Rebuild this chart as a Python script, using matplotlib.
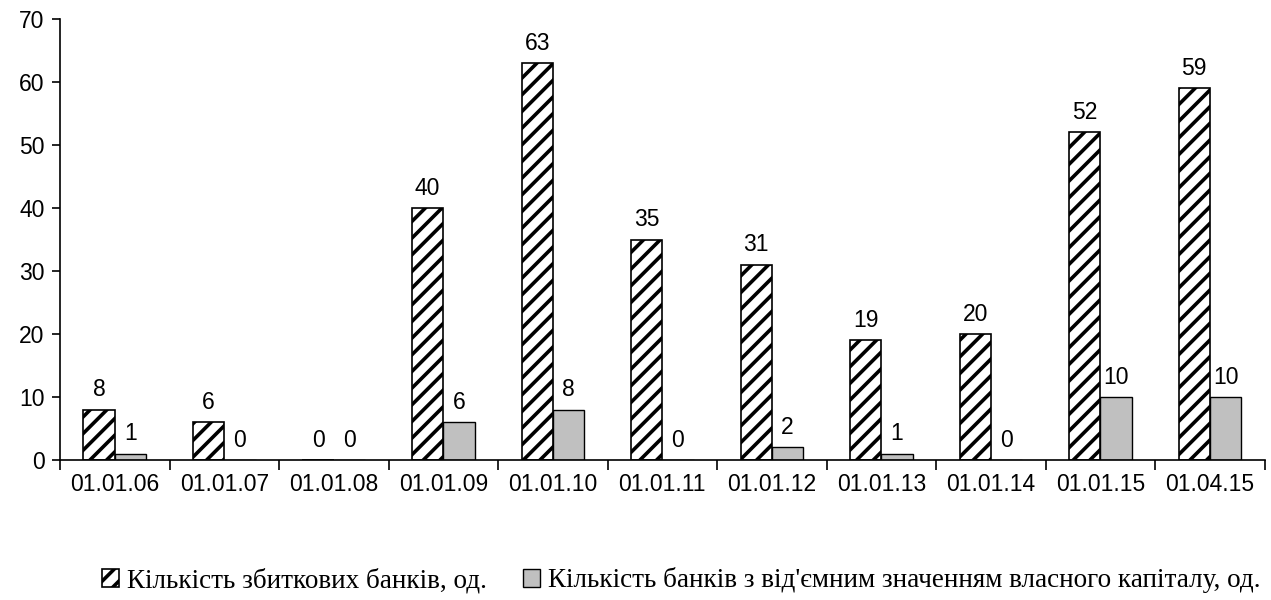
import numpy as np
import matplotlib as mpt
from matplotlib import pyplot as plt

mpt.use('Agg')
plt.rcParams['font.family'] = ['Liberation Sans', 'DejaVu Sans']
plt.rcParams['hatch.linewidth'] = 2.6

dates = ['01.01.06', '01.01.07', '01.01.08', '01.01.09', '01.01.10', '01.01.11',
         '01.01.12', '01.01.13', '01.01.14', '01.01.15', '01.04.15']
loss_banks = [8, 6, 0, 40, 63, 35, 31, 19, 20, 52, 59]
neg_capital = [1, 0, 0, 6, 8, 0, 2, 1, 0, 10, 10]
names = ['Кількість збиткових банків, од.',
         'Кількість банків з від\'ємним значенням власного капіталу, од.']

x = np.arange(len(dates))
w = 1 / 3.5

fig = plt.figure(figsize=(12.71, 6), dpi=100)
ax = fig.add_axes([0.0472, 0.2333, 0.9478, 0.735])

b1 = ax.bar(x - w / 2, loss_banks, w, color='white', edgecolor='black',
            hatch='//', linewidth=1.2, label=names[0])
b2 = ax.bar(x + w / 2, neg_capital, w, color='#c0c0c0', edgecolor='black',
            linewidth=1.0, label=names[1])

# підписи значень над стовпцями
for bars, vals in ((b1, loss_banks), (b2, neg_capital)):
    for r, v in zip(bars, vals):
        ax.annotate(str(v), (r.get_x() + r.get_width() / 2, v),
                    xytext=(0, 6), textcoords='offset points',
                    ha='center', va='bottom', fontsize=16.5)

ax.set_xlim(-0.5, len(dates) - 0.5)
ax.set_ylim(0, 70)
ax.set_yticks(range(0, 71, 10))
ax.set_xticks(np.arange(-0.5, len(dates), 1))
ax.set_xticklabels([])
ax.set_xticks(x, minor=True)
ax.set_xticklabels(dates, minor=True)
ax.tick_params(axis='x', which='minor', length=0, pad=9, labelsize=16.5)
ax.tick_params(axis='x', which='major', length=7, width=1.2, direction='out')
ax.tick_params(axis='y', length=6, width=1.2, labelsize=16.5, pad=5)
for s in ['top', 'right']:
    ax.spines[s].set_visible(False)
ax.spines['left'].set_linewidth(1.2)
ax.spines['bottom'].set_linewidth(1.2)

fig.legend(handles=[b1, b2], loc='center', bbox_to_anchor=(0.536, 0.033),
           ncol=2, frameon=False, handlelength=0.65, handleheight=0.65,
           handletextpad=0.3, columnspacing=1.3,
           prop={'family': 'Liberation Serif', 'size': 19.5})

plt.savefig('out.png')
